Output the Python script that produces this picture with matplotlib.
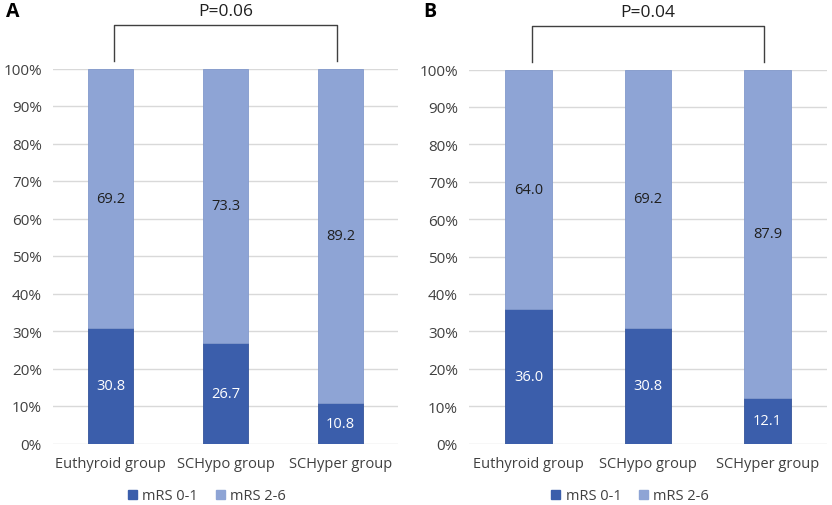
import matplotlib
matplotlib.use("Agg")
import matplotlib.pyplot as plt
from matplotlib.patches import Patch

plt.rcParams['font.family'] = ['Open Sans', 'DejaVu Sans']

categories = ["Euthyroid group", "SCHypo group", "SCHyper group"]
series_names = ["mRS 0-1", "mRS 2-6"]
a_low = [30.8, 26.7, 10.8]
a_high = [69.2, 73.3, 89.2]
b_low = [36.0, 30.8, 12.1]
b_high = [64.0, 69.2, 87.9]
panel_letters = ["A", "B"]
p_texts = ["P=0.06", "P=0.04"]
yticks = [0, 10, 20, 30, 40, 50, 60, 70, 80, 90, 100]

DARK = "#3B5EAB"
LIGHT = "#8EA4D5"
W, H = 832, 506
fig = plt.figure(figsize=(W / 100, H / 100), dpi=100)

def px_axes(x0, x1, y_top, y_bot):
    return fig.add_axes([x0 / W, 1 - y_bot / H, (x1 - x0) / W, (y_bot - y_top) / H])

panels = [
    (px_axes(53, 398, 69.5, 444.5), a_low, a_high, 0, 207),
    (px_axes(469, 827, 70.5, 444.5), b_low, b_high, 1, 630),
]

for ax, low, high, i, legx in panels:
    x = list(range(len(categories)))
    ax.bar(x, low, width=0.39, color=DARK, edgecolor="#34549A", linewidth=0.6, zorder=3)
    ax.bar(x, high, bottom=low, width=0.39, color=LIGHT, edgecolor="#8299CC", linewidth=0.6, zorder=3)
    for xi, l, h in zip(x, low, high):
        ax.text(xi, l / 2, f"{l:.1f}", ha="center", va="center", color="white", fontsize=10.5, zorder=4)
        ax.text(xi, l + h / 2, f"{h:.1f}", ha="center", va="center", color="#1F1F1F", fontsize=10.5, zorder=4)
    ax.set_xlim(-0.5, 2.5)
    ax.set_ylim(0, 100)
    ax.set_yticks(yticks)
    ax.set_yticklabels([f"{t}%" for t in yticks])
    ax.set_xticks(x)
    ax.set_xticklabels(categories)
    ax.tick_params(axis="both", length=0, labelsize=10.5, colors="#404040")
    ax.tick_params(axis="y", pad=8, labelsize=11)
    ax.tick_params(axis="x", pad=9)
    ax.grid(axis="y", color="#D9D9D9", linewidth=1, zorder=0)
    for s in ax.spines.values():
        s.set_visible(False)
    # bracket
    ax.plot([0.03, 0.03, 1.97, 1.97], [102, 111.5, 111.5, 102], color="#404040", lw=1.0,
            clip_on=False, zorder=5)
    ax.text(1, 115.3, p_texts[i], ha="center", va="center", fontsize=12.5, color="#1F1F1F")
    # panel letter
    lx = 6 if i == 0 else 423
    fig.text(lx / W, 1 - 12 / H, panel_letters[i], fontsize=14, fontweight="bold",
             ha="left", va="center", color="#000000")
    handles = [Patch(facecolor=DARK, edgecolor=DARK), Patch(facecolor=LIGHT, edgecolor=LIGHT)]
    fig.legend(handles, series_names, loc="center", bbox_to_anchor=(legx / W, 1 - 497 / H),
               ncol=2, frameon=False, fontsize=10.5, handlelength=0.6, handleheight=0.6,
               handletextpad=0.4, columnspacing=1.2, labelcolor="#404040")

fig.savefig("out.png", dpi=100)
